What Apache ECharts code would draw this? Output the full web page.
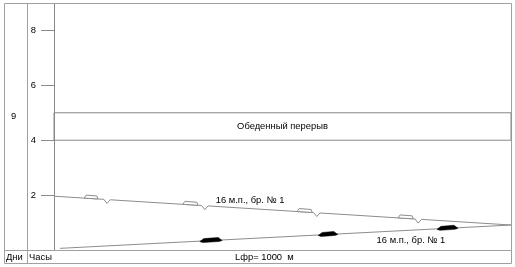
<!DOCTYPE html>
<html>
<head>
<meta charset="utf-8">
<script src="https://cdn.jsdelivr.net/npm/echarts@6/dist/echarts.min.js"></script>
<style>html,body{margin:0;padding:0;background:#fff;}#c{width:515px;height:267px;}</style>
</head>
<body>
<div id="c"></div>
<script>
// Hours axis
const hourTicks = [2, 4, 6, 8];
const lunchBreak = [4, 5];
const dayLabel = '9';
const frontLength = 1000; // м
const frontLabel = 'Lфр= 1000  м';
const colDays = 'Дни';
const colHours = 'Часы';
const lunchLabel = 'Обеденный перерыв';
const brigadeLabel = '16 м.п., бр. № 1';

// Descending line (м, ч) with notches
const lineDown = [
  [0, 1.96],
  [109, 1.846], [116, 1.70], [123, 1.83],
  [323, 1.621], [330, 1.47], [337, 1.606],
  [568, 1.364], [575, 1.22], [582, 1.349],
  [790, 1.131], [797, 0.98], [804, 1.116],
  [1000, 0.91]
];
// Ascending line
const lineUp = [[13, 0.06], [1000, 0.91]];
// Wagons on descending line: [x0, y0, x1, y1]
const wagons = [
  [66, 1.891, 96, 1.859],
  [282, 1.664, 315, 1.629],
  [532, 1.401, 565, 1.367],
  [753, 1.169, 786, 1.135]
];
// Machines on ascending line: [x0, y0, x1, y1]
const machines = [
  [319, 0.324, 368, 0.366],
  [578, 0.547, 621, 0.584],
  [838, 0.770, 884, 0.810]
];

const GRAY = '#8c8c8c';
const FONT = 'Liberation Sans';
const FS = 9.4;
const chart = echarts.init(document.getElementById('c'), null, {renderer: 'canvas'});
const L = 54, R = 4, T = 3, B = 17;
chart.setOption({
  animation: false,
  textStyle: {fontFamily: FONT},
  grid: {left: L, right: R, top: T, bottom: B, show: false},
  xAxis: {type: 'value', min: 0, max: frontLength, show: false},
  yAxis: {
    type: 'value', min: 0, max: 9, interval: 2,
    axisLine: {show: false},
    axisTick: {show: true, length: 13, lineStyle: {color: GRAY},
      customValues: hourTicks},
    axisLabel: {margin: 18, color: '#000', fontSize: FS, fontFamily: FONT,
      customValues: hourTicks,
      formatter: v => hourTicks.includes(v) ? String(v) : ''},
    splitLine: {show: false}
  },
  graphic: [
    {type: 'rect', shape: {x: 4.5, y: 3.5, width: 507, height: 260}, style: {fill: 'none', stroke: '#a0a0a0', lineWidth: 1}, silent: true},
    {type: 'line', shape: {x1: 27.5, y1: 3.5, x2: 27.5, y2: 263.5}, style: {stroke: '#a0a0a0', lineWidth: 1}},
    {type: 'line', shape: {x1: 54.5, y1: 3.5, x2: 54.5, y2: 250.5}, style: {stroke: '#888', lineWidth: 1}},
    {type: 'line', shape: {x1: 4.5, y1: 250.5, x2: 511.5, y2: 250.5}, style: {stroke: '#a0a0a0', lineWidth: 1}},
    {type: 'text', x: 6, y: 257.5, style: {text: colDays, font: FS + 'px ' + FONT, fill: '#000', verticalAlign: 'middle'}},
    {type: 'text', x: 29, y: 257.5, style: {text: colHours, font: FS + 'px ' + FONT, fill: '#000', verticalAlign: 'middle'}},
    {type: 'text', x: 11, y: 116, style: {text: dayLabel, font: FS + 'px ' + FONT, fill: '#000', verticalAlign: 'middle'}},
    {type: 'text', x: 235, y: 257.5, style: {text: frontLabel, font: FS + 'px ' + FONT, fill: '#000', verticalAlign: 'middle'}}
  ],
  series: [
    {
      type: 'line', data: lineDown, symbol: 'none', z: 3,
      lineStyle: {color: GRAY, width: 1},
      markArea: {
        silent: true,
        itemStyle: {color: 'rgba(0,0,0,0)', borderColor: '#888', borderWidth: 1},
        label: {show: true, position: 'inside', color: '#000', fontSize: FS, fontFamily: FONT},
        data: [[{name: lunchLabel, yAxis: lunchBreak[0]}, {yAxis: lunchBreak[1]}]]
      },
      markPoint: {
        symbol: 'circle', symbolSize: 0,
        label: {show: true, color: '#000', fontSize: FS, fontFamily: FONT, formatter: '{b}'},
        data: [
          {name: brigadeLabel, coord: [429, 1.82]},
          {name: brigadeLabel, coord: [781, 0.35]}
        ]
      }
    },
    {
      type: 'line', data: lineUp, symbol: 'none', z: 3,
      lineStyle: {color: GRAY, width: 1}
    },
    {
      type: 'custom', data: wagons, z: 4,
      renderItem: (params, api) => {
        const p0 = api.coord([api.value(0), api.value(1)]);
        const p1 = api.coord([api.value(2), api.value(3)]);
        return {type: 'polygon', shape: {points: [
          [p0[0], p0[1]], [p0[0] + 2, p0[1] - 3], [p1[0] - 1, p1[1] - 3], [p1[0], p1[1]]
        ]}, style: {fill: '#fff', stroke: GRAY, lineWidth: 1}};
      }
    },
    {
      type: 'custom', data: machines, z: 4,
      renderItem: (params, api) => {
        const p0 = api.coord([api.value(0), api.value(1)]);
        const p1 = api.coord([api.value(2), api.value(3)]);
        return {type: 'polygon', shape: {points: [
          [p0[0], p0[1] + 0.5], [p0[0] + 4, p0[1] - 2.5], [p1[0] - 4, p1[1] - 2.5],
          [p1[0], p1[1] + 0.5], [p1[0] - 3, p1[1] + 1.5], [p0[0] + 3, p0[1] + 1.5]
        ]}, style: {fill: '#000', stroke: '#000', lineWidth: 0.5}};
      }
    }
  ]
});
</script>
</body>
</html>
